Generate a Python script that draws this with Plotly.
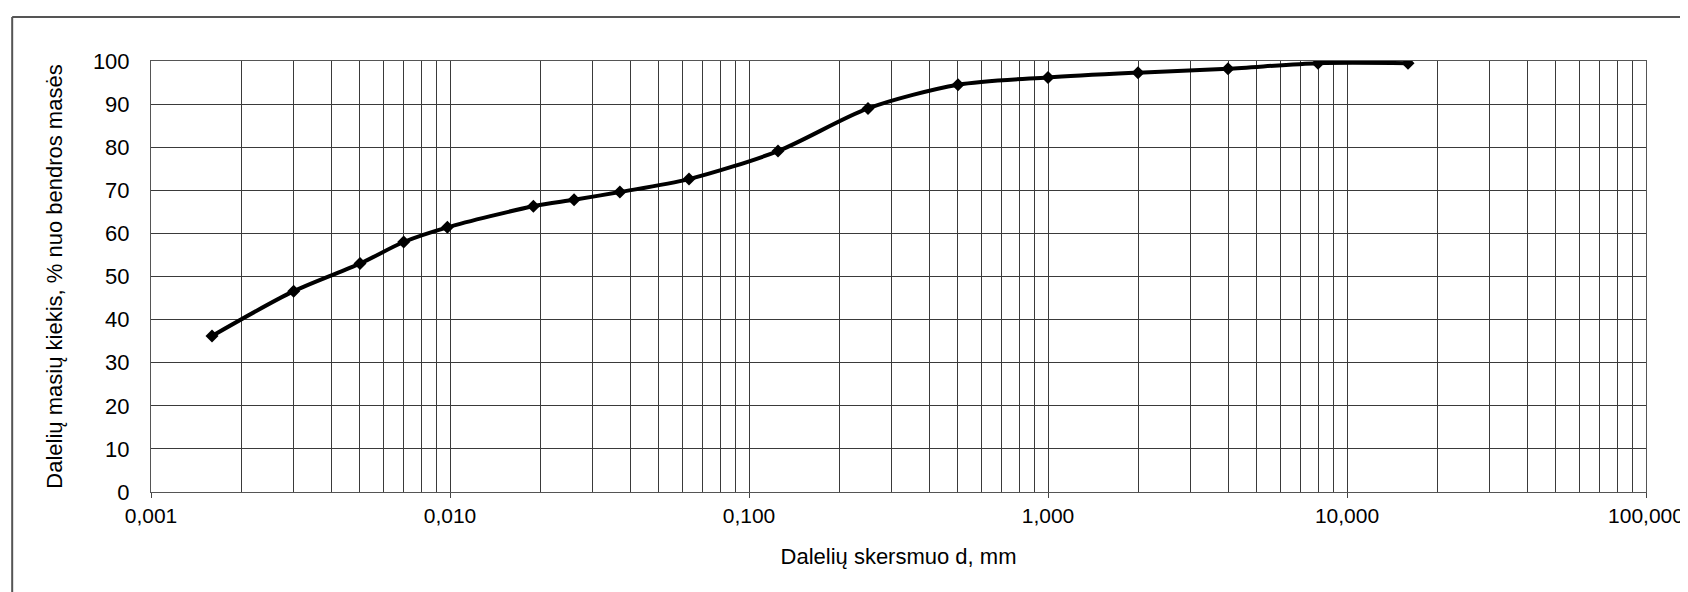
import plotly.graph_objects as go

# particle size distribution
diameter_mm = [0.0016, 0.003, 0.005, 0.007, 0.0098, 0.019, 0.026, 0.037, 0.063,
               0.125, 0.25, 0.5, 1.0, 2.0, 4.0, 8.0, 16.0]
passing_pct = [36.2, 46.6, 53.0, 58.0, 61.4, 66.3, 67.8, 69.6, 72.6,
               79.1, 89.0, 94.5, 96.2, 97.3, 98.2, 99.5, 99.5]

x_tickvals = [0.001, 0.01, 0.1, 1, 10, 100]
x_ticktext = ["0,001", "0,010", "0,100", "1,000", "10,000", "100,000"]

_FONT = "Liberation Sans, Arial, sans-serif"
_GRID = "#3a3a3a"

# plot area in pixels (figure is 1688 x 592)
W, H = 1688, 592
L, R, T, B = 143, 48, 53, 108
pw, ph = W - L - R, H - T - B

minor_vals = [m * 10.0 ** e for e in range(-3, 2) for m in range(2, 10)]

fig = go.Figure(go.Scatter(
    x=diameter_mm, y=passing_pct, mode="lines+markers",
    line=dict(color="black", width=4, shape="spline", smoothing=0.8),
    marker=dict(symbol="diamond", size=10, color="black"),
    showlegend=False,
))


def px_x(p):
    return (p - L) / pw


def px_y(p):
    return (H - B - p) / ph


# outer frame of the scanned chart area (top and left edges)
frame = dict(type="line", xref="paper", yref="paper",
             line=dict(color="#555555", width=2))
fig.add_shape(**frame, x0=px_x(4), x1=px_x(W), y0=px_y(9), y1=px_y(9))
fig.add_shape(**frame, x0=px_x(4), x1=px_x(4), y0=px_y(9), y1=px_y(H))

fig.update_layout(
    width=W, height=H,
    paper_bgcolor="white", plot_bgcolor="white",
    font=dict(family=_FONT, color="black", size=22),
    margin=dict(l=L, r=R, t=T, b=B),
    xaxis=dict(
        type="log", range=[-3, 2],
        tickmode="array", tickvals=x_tickvals, ticktext=x_ticktext,
        tickfont=dict(size=21),
        ticks="outside", ticklen=5, tickcolor="#444444",
        showgrid=True, gridcolor=_GRID, gridwidth=1,
        minor=dict(tickmode="array", tickvals=minor_vals, showgrid=True,
                   gridcolor=_GRID, gridwidth=1, ticks=""),
        showline=True, linecolor="#555555", linewidth=1, mirror=True,
        zeroline=False,
        title=dict(text="Dalelių skersmuo d, mm", font=dict(size=22), standoff=22),
    ),
    yaxis=dict(
        range=[0, 100], dtick=10,
        tickfont=dict(size=22), ticklabelstandoff=16,
        showgrid=True, gridcolor=_GRID, gridwidth=1,
        showline=True, linecolor="#555555", linewidth=1, mirror=True,
        zeroline=False,
        title=dict(text="Dalelių masių kiekis, % nuo bendros masės",
                   font=dict(size=22), standoff=24),
    ),
)

fig.write_html("out.html")
